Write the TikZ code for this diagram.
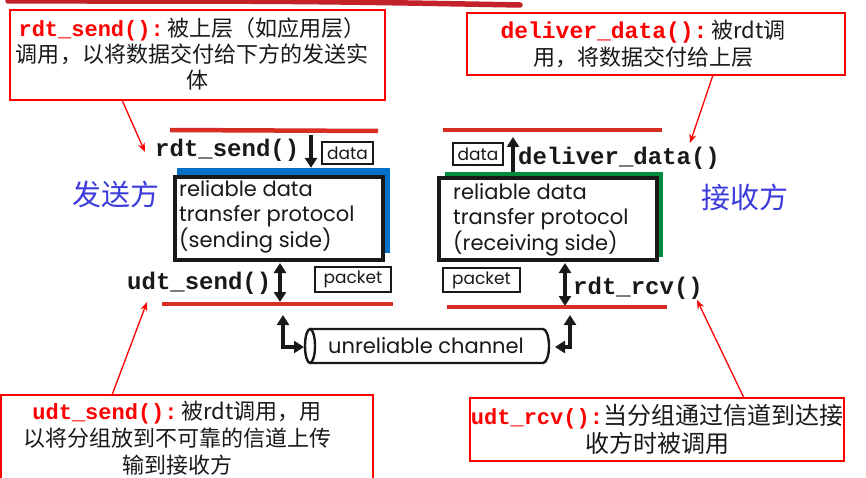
\documentclass[tikz,border=0pt]{standalone}
\usepackage{fontspec}
\usetikzlibrary{arrows.meta}
\newfontfamily\cjk{Noto Sans CJK SC}
\newfontfamily\mono{Liberation Mono}
\newfontfamily\geo{Poppins}
\definecolor{callred}{RGB}{255,0,0}
\definecolor{barred}{RGB}{215,45,35}
\definecolor{brush}{RGB}{195,35,40}
\definecolor{sideblue}{RGB}{60,60,220}
\definecolor{shadeblue}{RGB}{0,112,200}
\definecolor{shadegreen}{RGB}{0,140,60}
\definecolor{ink}{RGB}{25,25,25}
\tikzset{
 cbox/.style={draw=callred, line width=1.6pt, fill=white, inner sep=0pt},
 ctext/.style={font=\cjk\fontsize{22}{26}\selectfont, align=center, inner sep=0pt, text=ink},
 fn/.style={font=\mono\bfseries\fontsize{24}{26}\selectfont, inner sep=0pt, anchor=west, text=ink},
 bar/.style={draw=barred, line width=4.5pt},
 pbox/.style={draw=ink, line width=2.6pt, font=\geo\fontsize{17}{18}\selectfont, inner sep=0pt, text=ink},
 shadebox/.style={inner sep=0pt},
 proto/.style={draw=ink, line width=3.4pt, fill=white, inner sep=0pt},
 ptext/.style={font=\geo\fontsize{21}{25}\selectfont, align=left, inner sep=0pt, anchor=west, text=ink},
 side/.style={font=\cjk\fontsize{29}{30}\selectfont, text=sideblue, inner sep=0pt},
 harr/.style={draw=ink, line width=3.3pt, -{Triangle[length=10pt,width=12pt]}},
 darr/.style={draw=ink, line width=3.3pt, {Triangle[length=10pt,width=12pt]}-{Triangle[length=10pt,width=12pt]}},
 chan/.style={draw=ink, line width=2.4pt},
 ptr/.style={draw=callred, line width=1.3pt, -{Stealth[length=9pt,width=7pt]}},
}
\begin{document}
\begin{tikzpicture}[x=1pt,y=-1pt]
\useasboundingbox (0,0) rectangle (866,478);
\fill[white] (0,0) rectangle (866,478);
% top brush stroke
\draw[line width=5.5pt, color=brush, line cap=round] (8,1) .. controls (300,1) .. (520,5);

% callout boxes
\node[cbox, minimum width=375pt, minimum height=90pt] (c1) at (197.5,55) {};
\node[ctext] (t1) at (192,54) {\textcolor{callred}{\mono\bfseries rdt\_send():}\,被上层（如应用层）\\调用，以将数据交付给下方的发送实\\\hspace*{10pt}体};
\node[cbox, minimum width=378pt, minimum height=62pt] (c2) at (656,44) {};
\node[ctext, font=\cjk\fontsize{22}{27}\selectfont] (t2) at (643,44) {\textcolor{callred}{\mono\bfseries\fontsize{23}{27}\selectfont deliver\_data():}\,被rdt调\\用，将数据交付给上层};
\node[cbox, minimum width=372pt, minimum height=90pt] (c3) at (187,440) {};
\node[ctext, font=\cjk\fontsize{22}{27}\selectfont] (t3) at (177,438) {\textcolor{callred}{\mono\bfseries udt\_send():}\,被rdt调用，用\\以将分组放到不可靠的信道上传\\输到接收方};
\node[cbox, minimum width=374pt, minimum height=63pt] (c4) at (657,429.5) {};
\node[ctext, font=\cjk\fontsize{24}{28}\selectfont] (t4) at (657,429) {\textcolor{callred}{\mono\bfseries\fontsize{22}{28}\selectfont udt\_rcv():}当分组通过信道到达接\\收方时被调用};

% red layer bars
\coordinate (l1a) at (170,130); \coordinate (l1b) at (378,131);
\coordinate (l2a) at (162,304); \coordinate (l2b) at (393,304);
\coordinate (r1a) at (443,130); \coordinate (r1b) at (662,130);
\coordinate (r2a) at (447,307); \coordinate (r2b) at (667,307);
\draw[bar] (l1a) -- (l1b);
\draw[bar] (l2a) -- (l2b);
\draw[bar] (r1a) -- (r1b);
\draw[bar] (r2a) -- (r2b);

% sender side
\node[shadebox, fill=shadeblue, minimum width=213pt, minimum height=85pt] (bs) at (283.5,210.5) {};
\node[proto, minimum width=208pt, minimum height=83pt] (snd) at (279,218.5) {};
\node[ptext] (sndt) at (179,217) {reliable data\\transfer protocol\\(sending side)};
\node[fn] (rs) at (155,150) {rdt\_send()};
\node[pbox, minimum width=51pt, minimum height=22pt] (d1) at (347.5,153) {data};
\node[fn] (us) at (127,283) {udt\_send()};
\node[pbox, minimum width=76pt, minimum height=25pt] (p1) at (353,279.5) {packet};
\node[side] (sl) at (116,194) {发送方};
\coordinate (a1) at (311,135);
\draw[harr] (a1) -- (a1 |- bs.north);
\coordinate (a2t) at (280,263);
\coordinate (a2b) at (280,302);
\draw[darr] (a2t) -- (a2b);

% receiver side
\node[shadebox, fill=shadegreen, minimum width=218pt, minimum height=85pt] (gs) at (554,214.5) {};
\node[proto, minimum width=218pt, minimum height=82pt] (rcv) at (548,219) {};
\node[ptext] (rcvt) at (453,220) {reliable data\\transfer protocol\\(receiving side)};
\node[fn] (dd) at (518,158) {deliver\_data()};
\node[pbox, minimum width=50pt, minimum height=22pt] (d2) at (478,154) {data};
\node[fn] (rr) at (573,288) {rdt\_rcv()};
\node[pbox, minimum width=77pt, minimum height=24pt] (p2) at (481.5,280) {packet};
\node[side] (rl) at (745,197) {接收方};
\coordinate (a3) at (513,137);
\draw[harr] (a3 |- gs.north) -- (a3);
\coordinate (a4t) at (565,263);
\coordinate (a4b) at (565,306);
\draw[darr] (a4t) -- (a4b);

% channel
\draw[chan] (310,329) -- (543,329) arc[start angle=-90, end angle=90, x radius=6, y radius=17] -- (310,363);
\draw[chan] (310,346) ellipse [x radius=5, y radius=17];
\node[font=\geo\fontsize{21}{25}\selectfont, inner sep=0pt, text=ink] (ch) at (426,346) {unreliable channel};
\coordinate (lc) at (283,315); \coordinate (chl) at (304,347);
\coordinate (rc) at (570,315); \coordinate (chr) at (555,347);
\draw[darr] (lc) |- (chl);
\draw[darr] (rc) |- (chr);

% pointers
\coordinate (q1) at (122,100); \coordinate (q1e) at (145,152);
\coordinate (q2) at (713,75); \coordinate (q2e) at (690,143);
\coordinate (q3) at (112,395); \coordinate (q3e) at (147,302);
\coordinate (q4) at (744,398); \coordinate (q4e) at (697,300);
\draw[ptr] (q1) -- (q1e);
\draw[ptr] (q2) -- (q2e);
\draw[ptr] (q3) -- (q3e);
\draw[ptr] (q4) -- (q4e);
\end{tikzpicture}
\end{document}
